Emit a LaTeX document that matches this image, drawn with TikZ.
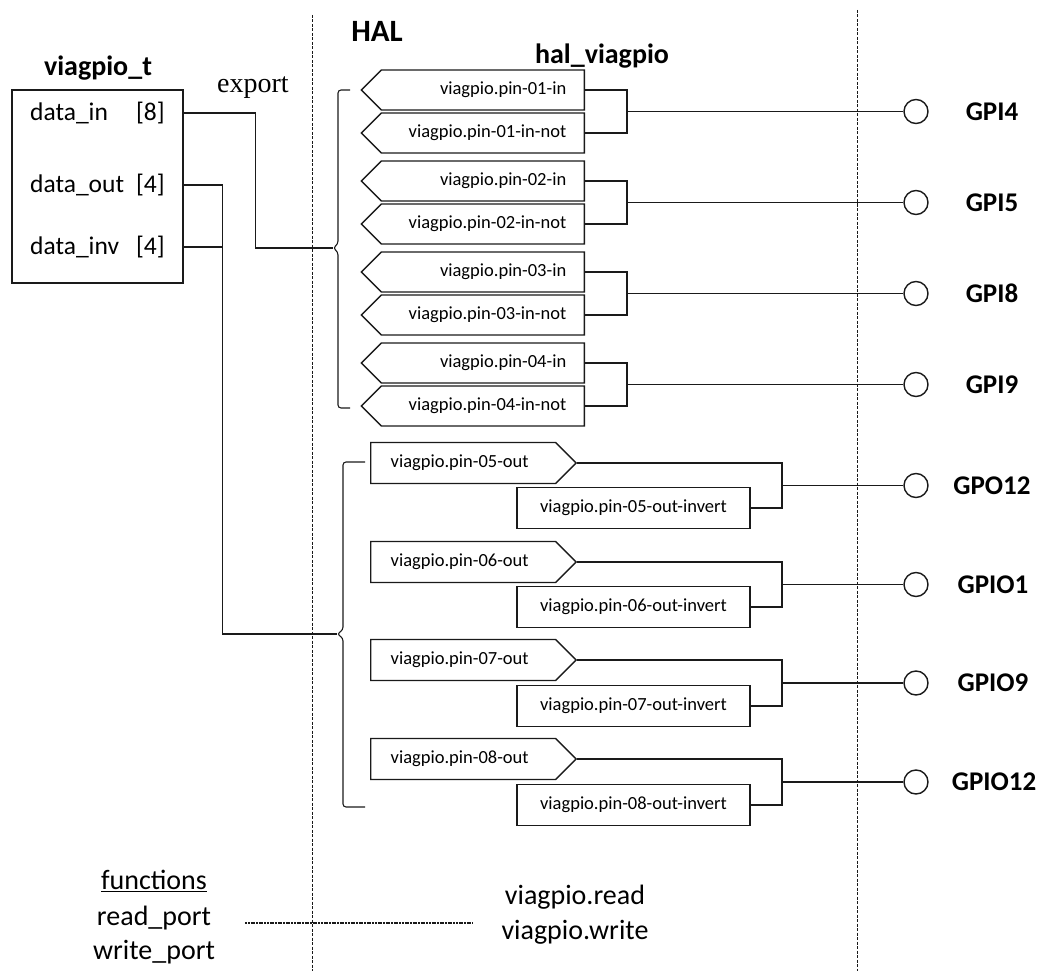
\documentclass[tikz,border=0pt]{standalone}
\usepackage{fontspec}
\setmainfont{Carlito}
\newfontfamily\exportfont{Liberation Serif}
\usetikzlibrary{shapes.symbols, calc, positioning}
\definecolor{wireblack}{HTML}{1A1A1A}
\tikzset{
  pinin/.style={signal, signal to=west, signal pointer angle=90, draw=wireblack, line width=1.4pt,
                minimum height=40pt, text width=167pt, inner xsep=18pt, inner ysep=0pt, align=right,
                font=\fontsize{18.5}{20}\selectfont},
  pinout/.style={signal, signal to=east, signal pointer angle=90, draw=wireblack, line width=1.4pt,
                 minimum height=41pt, text width=145pt, inner xsep=20pt, inner ysep=0pt, align=left,
                 font=\fontsize{18.5}{20}\selectfont},
  pininv/.style={rectangle, draw=wireblack, line width=1.4pt, minimum width=233pt, minimum height=41pt,
                 font=\fontsize{18.5}{20}\selectfont},
  gpiopad/.style={circle, draw=wireblack, line width=1.4pt, minimum size=24pt, inner sep=0pt},
  padlabel/.style={inner sep=0pt, font=\fontsize{27}{30}\selectfont\bfseries},
  titletext/.style={inner sep=0pt, font=\fontsize{28}{30}\selectfont\bfseries},
  fieldtext/.style={inner sep=0pt, anchor=west, font=\fontsize{25.5}{28}\selectfont},
  plaintext/.style={inner sep=0pt, font=\fontsize{28}{30}\selectfont},
  wire/.style={draw=wireblack, line width=1.1pt},
  halbound/.style={draw=wireblack, line width=0.9pt, dash pattern=on 3pt off 1.5pt},
  funclink/.style={draw=wireblack, line width=1.1pt, dash pattern=on 2pt off 0.7pt},
}

\begin{document}
\begin{tikzpicture}[x=1pt, y=-1pt]
  \useasboundingbox (0,0) rectangle (1045,971);

  \draw[halbound] (312,15) -- (312,971);
  \draw[halbound] (857,10) -- (857,971);

  \node[titletext, font=\fontsize{31}{34}\selectfont\bfseries] (hal) at (377,31) {HAL};
  \node[titletext] (halcomp) at (602,56) {hal\_viagpio};
  \node[titletext] (vtname) at (98,68) {viagpio\_t};
  \node[plaintext, font=\exportfont\fontsize{28}{30}\selectfont] (export) at (253,88) {export};

  \node[draw=wireblack, line width=1.4pt, minimum width=171pt, minimum height=193pt] (vt) at (97.5,186.5) {};
  \node[fieldtext] (din) at (30,113) {\makebox[106pt][l]{data\_in}[8]};
  \node[fieldtext] (dout) at (30,185) {\makebox[106pt][l]{data\_out}[4]};
  \node[fieldtext] (dinv) at (30,247) {\makebox[106pt][l]{data\_inv}[4]};

  \coordinate (inbrace) at (333,248);
  \coordinate (outbrace) at (337,634);
  \draw[wire, rounded corners=3pt] (350,90) -- (338,90) -- (338,244) -- (inbrace) -- (338,252) -- (338,408) -- (350,408);
  \draw[wire, rounded corners=3pt] (365,462) -- (343,462) -- (343,630) -- (outbrace) -- (343,638) -- (343,807) -- (365,807);
  \draw[wire] (vt.east |- din.west) -- ++(72,0) |- (inbrace);
  \draw[wire] (vt.east |- dout.west) -- ++(39,0) |- (outbrace);
  \draw[wire] (vt.east |- dinv.west) -- ++(39,0);

  \node[pinin, anchor=east] (in1) at (585,90) {viagpio.pin-01-in};
  \node[pinin, anchor=east] (in1n) at (585,133) {viagpio.pin-01-in-not};
  \node[pinin, anchor=east] (in2) at (585,181) {viagpio.pin-02-in};
  \node[pinin, anchor=east] (in2n) at (585,224) {viagpio.pin-02-in-not};
  \node[pinin, anchor=east] (in3) at (585,272) {viagpio.pin-03-in};
  \node[pinin, anchor=east] (in3n) at (585,315) {viagpio.pin-03-in-not};
  \node[pinin, anchor=east] (in4) at (585,363) {viagpio.pin-04-in};
  \node[pinin, anchor=east] (in4n) at (585,406) {viagpio.pin-04-in-not};

  \node[pinout, anchor=west] (out5) at (370,463) {viagpio.pin-05-out};
  \node[pininv] (out5i) at (633.5,508) {viagpio.pin-05-out-invert};
  \node[pinout, anchor=west] (out6) at (370,562) {viagpio.pin-06-out};
  \node[pininv] (out6i) at (633.5,607) {viagpio.pin-06-out-invert};
  \node[pinout, anchor=west] (out7) at (370,660) {viagpio.pin-07-out};
  \node[pininv] (out7i) at (633.5,706) {viagpio.pin-07-out-invert};
  \node[pinout, anchor=west] (out8) at (370,759) {viagpio.pin-08-out};
  \node[pininv] (out8i) at (633.5,805) {viagpio.pin-08-out-invert};

  \node[gpiopad] (gpi4) at (916,111.5) {};
  \node[gpiopad] (gpi5) at (916,202.5) {};
  \node[gpiopad] (gpi8) at (916,293.5) {};
  \node[gpiopad] (gpi9) at (916,384.5) {};
  \node[gpiopad] (gpo12) at (916,485.5) {};
  \node[gpiopad] (gpio1) at (916,584.5) {};
  \node[gpiopad] (gpio9) at (916,683) {};
  \node[gpiopad] (gpio12) at (916,782) {};
  \node[padlabel] (lgpi4) at (992,111.5) {GPI4};
  \node[padlabel] (lgpi5) at (992,202.5) {GPI5};
  \node[padlabel] (lgpi8) at (992,293.5) {GPI8};
  \node[padlabel] (lgpi9) at (992,384.5) {GPI9};
  \node[padlabel] (lgpo12) at (992,485.5) {GPO12};
  \node[padlabel] (lgpio1) at (993,584.5) {GPIO1};
  \node[padlabel] (lgpio9) at (993,683) {GPIO9};
  \node[padlabel] (lgpio12) at (994,782) {GPIO12};

  \coordinate (injx) at (627,0);
  \coordinate (outjx) at (782,0);
  \draw[wire] (in1.east) -| (injx |- in1n.east) -- (in1n.east);
  \draw[wire] (in2.east) -| (injx |- in2n.east) -- (in2n.east);
  \draw[wire] (in3.east) -| (injx |- in3n.east) -- (in3n.east);
  \draw[wire] (in4.east) -| (injx |- in4n.east) -- (in4n.east);
  \draw[wire] (injx |- gpi4.west) -- (gpi4.west);
  \draw[wire] (injx |- gpi5.west) -- (gpi5.west);
  \draw[wire] (injx |- gpi8.west) -- (gpi8.west);
  \draw[wire] (injx |- gpi9.west) -- (gpi9.west);
  \draw[wire] (out5.east) -| (outjx |- out5i.east) -- (out5i.east);
  \draw[wire] (out6.east) -| (outjx |- out6i.east) -- (out6i.east);
  \draw[wire] (out7.east) -| (outjx |- out7i.east) -- (out7i.east);
  \draw[wire] (out8.east) -| (outjx |- out8i.east) -- (out8i.east);
  \draw[wire] (outjx |- gpo12.west) -- (gpo12.west);
  \draw[wire] (outjx |- gpio1.west) -- (gpio1.west);
  \draw[wire] (outjx |- gpio9.west) -- (gpio9.west);
  \draw[wire] (outjx |- gpio12.west) -- (gpio12.west);

  \node[plaintext] (fnhead) at (154,881) {\underline{functions}};
  \node[plaintext] (rdport) at (154,918) {read\_port};
  \node[plaintext] (wrport) at (154,952) {write\_port};
  \node[plaintext] (vpread) at (575,897) {viagpio.read};
  \node[plaintext] (vpwrite) at (575,932) {viagpio.write};
  \draw[funclink] ($(rdport.east)+(34,5)$) -- ($(rdport.east -| vpwrite.west)+(-28,5)$);
\end{tikzpicture}
\end{document}
